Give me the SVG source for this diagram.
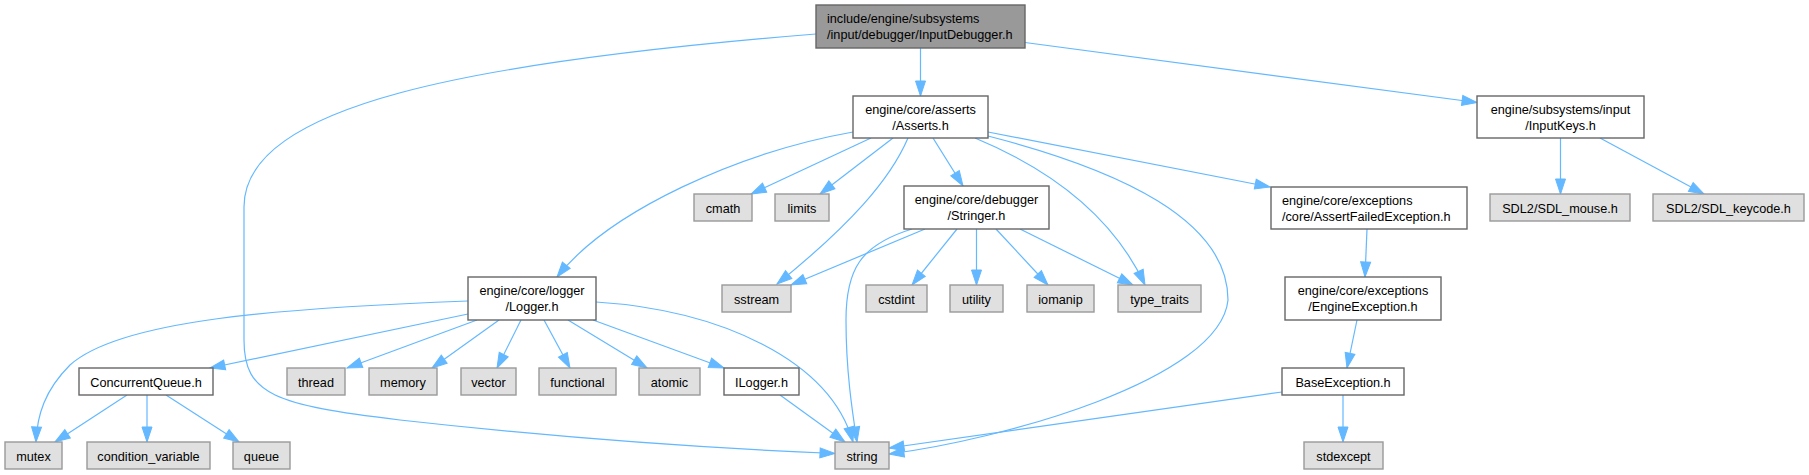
<svg xmlns="http://www.w3.org/2000/svg" width="1809" height="475" viewBox="0 0 1809 475">
<style>
text{font-family:"Liberation Sans",Arial,sans-serif;font-size:12.7px;fill:#000;text-anchor:middle}
text.l{text-anchor:start}
.n rect{fill:#fff;stroke:#666;stroke-width:1.4}
.x rect{fill:#e0e0e0;stroke:#999;stroke-width:1.4}
.r rect{fill:#999;stroke:#666;stroke-width:1.4}
.e path{fill:none;stroke:#63b8ff;stroke-width:1.2;marker-end:url(#a)}
</style>
<defs>
<marker id="a" markerUnits="userSpaceOnUse" markerWidth="16" markerHeight="12" refX="15" refY="5" orient="auto" overflow="visible">
<path d="M0,0 L15,5 L0,10 z" fill="#63b8ff" stroke="#63b8ff" stroke-width="1"/>
</marker>
</defs>
<rect width="1809" height="475" fill="#fff"/>
<g class="e" id="edges">
<path d="M920.5,48 L920.5,96"/>
<path d="M1025,42.5 L1477,102.5"/>
<path d="M816,34 C470,62 244,105 244,207 L244,340 C244,395 275,405 400,420 C560,438 700,448 835,453.5"/>
<path d="M853,132 C740,152 610,210 557,277"/>
<path d="M871,138 L751,194"/>
<path d="M893,138 L820,194"/>
<path d="M908,138 C890,180 850,225 777,284"/>
<path d="M933,138 L963,186"/>
<path d="M975,138 C1040,165 1110,210 1145,285"/>
<path d="M988,136 C1120,170 1228,220 1228,300 C1220,380 1000,440 889,454"/>
<path d="M988,132 L1270,187"/>
<path d="M925,229 L791,285"/>
<path d="M912,229 C860,245 846,270 846,320 C846,370 852,410 857,442"/>
<path d="M957,229 L912,285"/>
<path d="M976.5,229 L976.5,285"/>
<path d="M996,229 L1048,285"/>
<path d="M1020,229 L1133,285"/>
<path d="M1560.5,138 L1560.5,194"/>
<path d="M1600,138 L1704,194"/>
<path d="M1367,229 L1365,277"/>
<path d="M1357,320 L1347,368"/>
<path d="M1282,392 L889,448"/>
<path d="M1343,395 L1343,442"/>
<path d="M468,301 C280,308 120,320 70,365 C45,390 37,415 36,442"/>
<path d="M468,314 L210,368"/>
<path d="M477,320 L347,368"/>
<path d="M499,320 L432,368"/>
<path d="M521,320 L497,368"/>
<path d="M544,320 L570,368"/>
<path d="M568,320 L647,368"/>
<path d="M593,320 L724,368"/>
<path d="M596,302 C720,310 830,360 853,442"/>
<path d="M780,395 L845,442"/>
<path d="M127,395 L55,442"/>
<path d="M147,395 L147,442"/>
<path d="M166,395 L239,442"/>
</g>
<g id="root" class="r"><rect x="816" y="5" width="209" height="43"/><text class="l" x="827" y="22.5">include/engine/subsystems</text><text class="l" x="827" y="38.5">/input/debugger/InputDebugger.h</text></g>
<g id="asserts" class="n"><rect x="853" y="96" width="135" height="42"/><text x="920.5" y="113.5">engine/core/asserts</text><text x="920.5" y="129.5">/Asserts.h</text></g>
<g id="cmath" class="x"><rect x="694" y="194" width="58" height="27"/><text x="723" y="212.5">cmath</text></g>
<g id="limits" class="x"><rect x="775" y="194" width="54" height="27"/><text x="802" y="212.5">limits</text></g>
<g id="stringer" class="n"><rect x="904" y="186" width="145" height="43"/><text x="976.5" y="204">engine/core/debugger</text><text x="976.5" y="220">/Stringer.h</text></g>
<g id="inputkeys" class="n"><rect x="1477" y="96" width="167" height="42"/><text x="1560.5" y="113.5">engine/subsystems/input</text><text x="1560.5" y="129.5">/InputKeys.h</text></g>
<g id="assertfailed" class="n"><rect x="1271" y="187" width="196" height="42"/><text class="l" x="1282" y="204.5">engine/core/exceptions</text><text class="l" x="1282" y="220.5">/core/AssertFailedException.h</text></g>
<g id="sdlmouse" class="x"><rect x="1490" y="194" width="140" height="27"/><text x="1560" y="212.5">SDL2/SDL_mouse.h</text></g>
<g id="sdlkeycode" class="x"><rect x="1653" y="194" width="151" height="27"/><text x="1728.5" y="212.5">SDL2/SDL_keycode.h</text></g>
<g id="logger" class="n"><rect x="468" y="277" width="128" height="43"/><text x="532" y="295">engine/core/logger</text><text x="532" y="311">/Logger.h</text></g>
<g id="sstream" class="x"><rect x="722" y="285" width="69" height="27"/><text x="756.5" y="303.5">sstream</text></g>
<g id="cstdint" class="x"><rect x="866" y="285" width="61" height="27"/><text x="896.5" y="303.5">cstdint</text></g>
<g id="utility" class="x"><rect x="950" y="285" width="53" height="27"/><text x="976.5" y="303.5">utility</text></g>
<g id="iomanip" class="x"><rect x="1027" y="285" width="67" height="27"/><text x="1060.5" y="303.5">iomanip</text></g>
<g id="type_traits" class="x"><rect x="1118" y="285" width="83" height="27"/><text x="1159.5" y="303.5">type_traits</text></g>
<g id="engineexception" class="n"><rect x="1285" y="277" width="156" height="43"/><text x="1363" y="295">engine/core/exceptions</text><text x="1363" y="311">/EngineException.h</text></g>
<g id="concurrentqueue" class="n"><rect x="79" y="368" width="134" height="27"/><text x="146" y="386.5">ConcurrentQueue.h</text></g>
<g id="thread" class="x"><rect x="287" y="368" width="58" height="27"/><text x="316" y="386.5">thread</text></g>
<g id="memory" class="x"><rect x="369" y="368" width="68" height="27"/><text x="403" y="386.5">memory</text></g>
<g id="vector" class="x"><rect x="461" y="368" width="55" height="27"/><text x="488.5" y="386.5">vector</text></g>
<g id="functional" class="x"><rect x="539" y="368" width="77" height="27"/><text x="577.5" y="386.5">functional</text></g>
<g id="atomic" class="x"><rect x="639" y="368" width="61" height="27"/><text x="669.5" y="386.5">atomic</text></g>
<g id="ilogger" class="n"><rect x="724" y="368" width="75" height="27"/><text x="761.5" y="386.5">ILogger.h</text></g>
<g id="baseexception" class="n"><rect x="1282" y="368" width="122" height="27"/><text x="1343" y="386.5">BaseException.h</text></g>
<g id="mutex" class="x"><rect x="5" y="442" width="57" height="27"/><text x="33.5" y="460.5">mutex</text></g>
<g id="condition_variable" class="x"><rect x="87" y="442" width="123" height="27"/><text x="148.5" y="460.5">condition_variable</text></g>
<g id="queue" class="x"><rect x="233" y="442" width="57" height="27"/><text x="261.5" y="460.5">queue</text></g>
<g id="string" class="x"><rect x="835" y="442" width="54" height="27"/><text x="862" y="460.5">string</text></g>
<g id="stdexcept" class="x"><rect x="1304" y="442" width="79" height="27"/><text x="1343.5" y="460.5">stdexcept</text></g>
</svg>
